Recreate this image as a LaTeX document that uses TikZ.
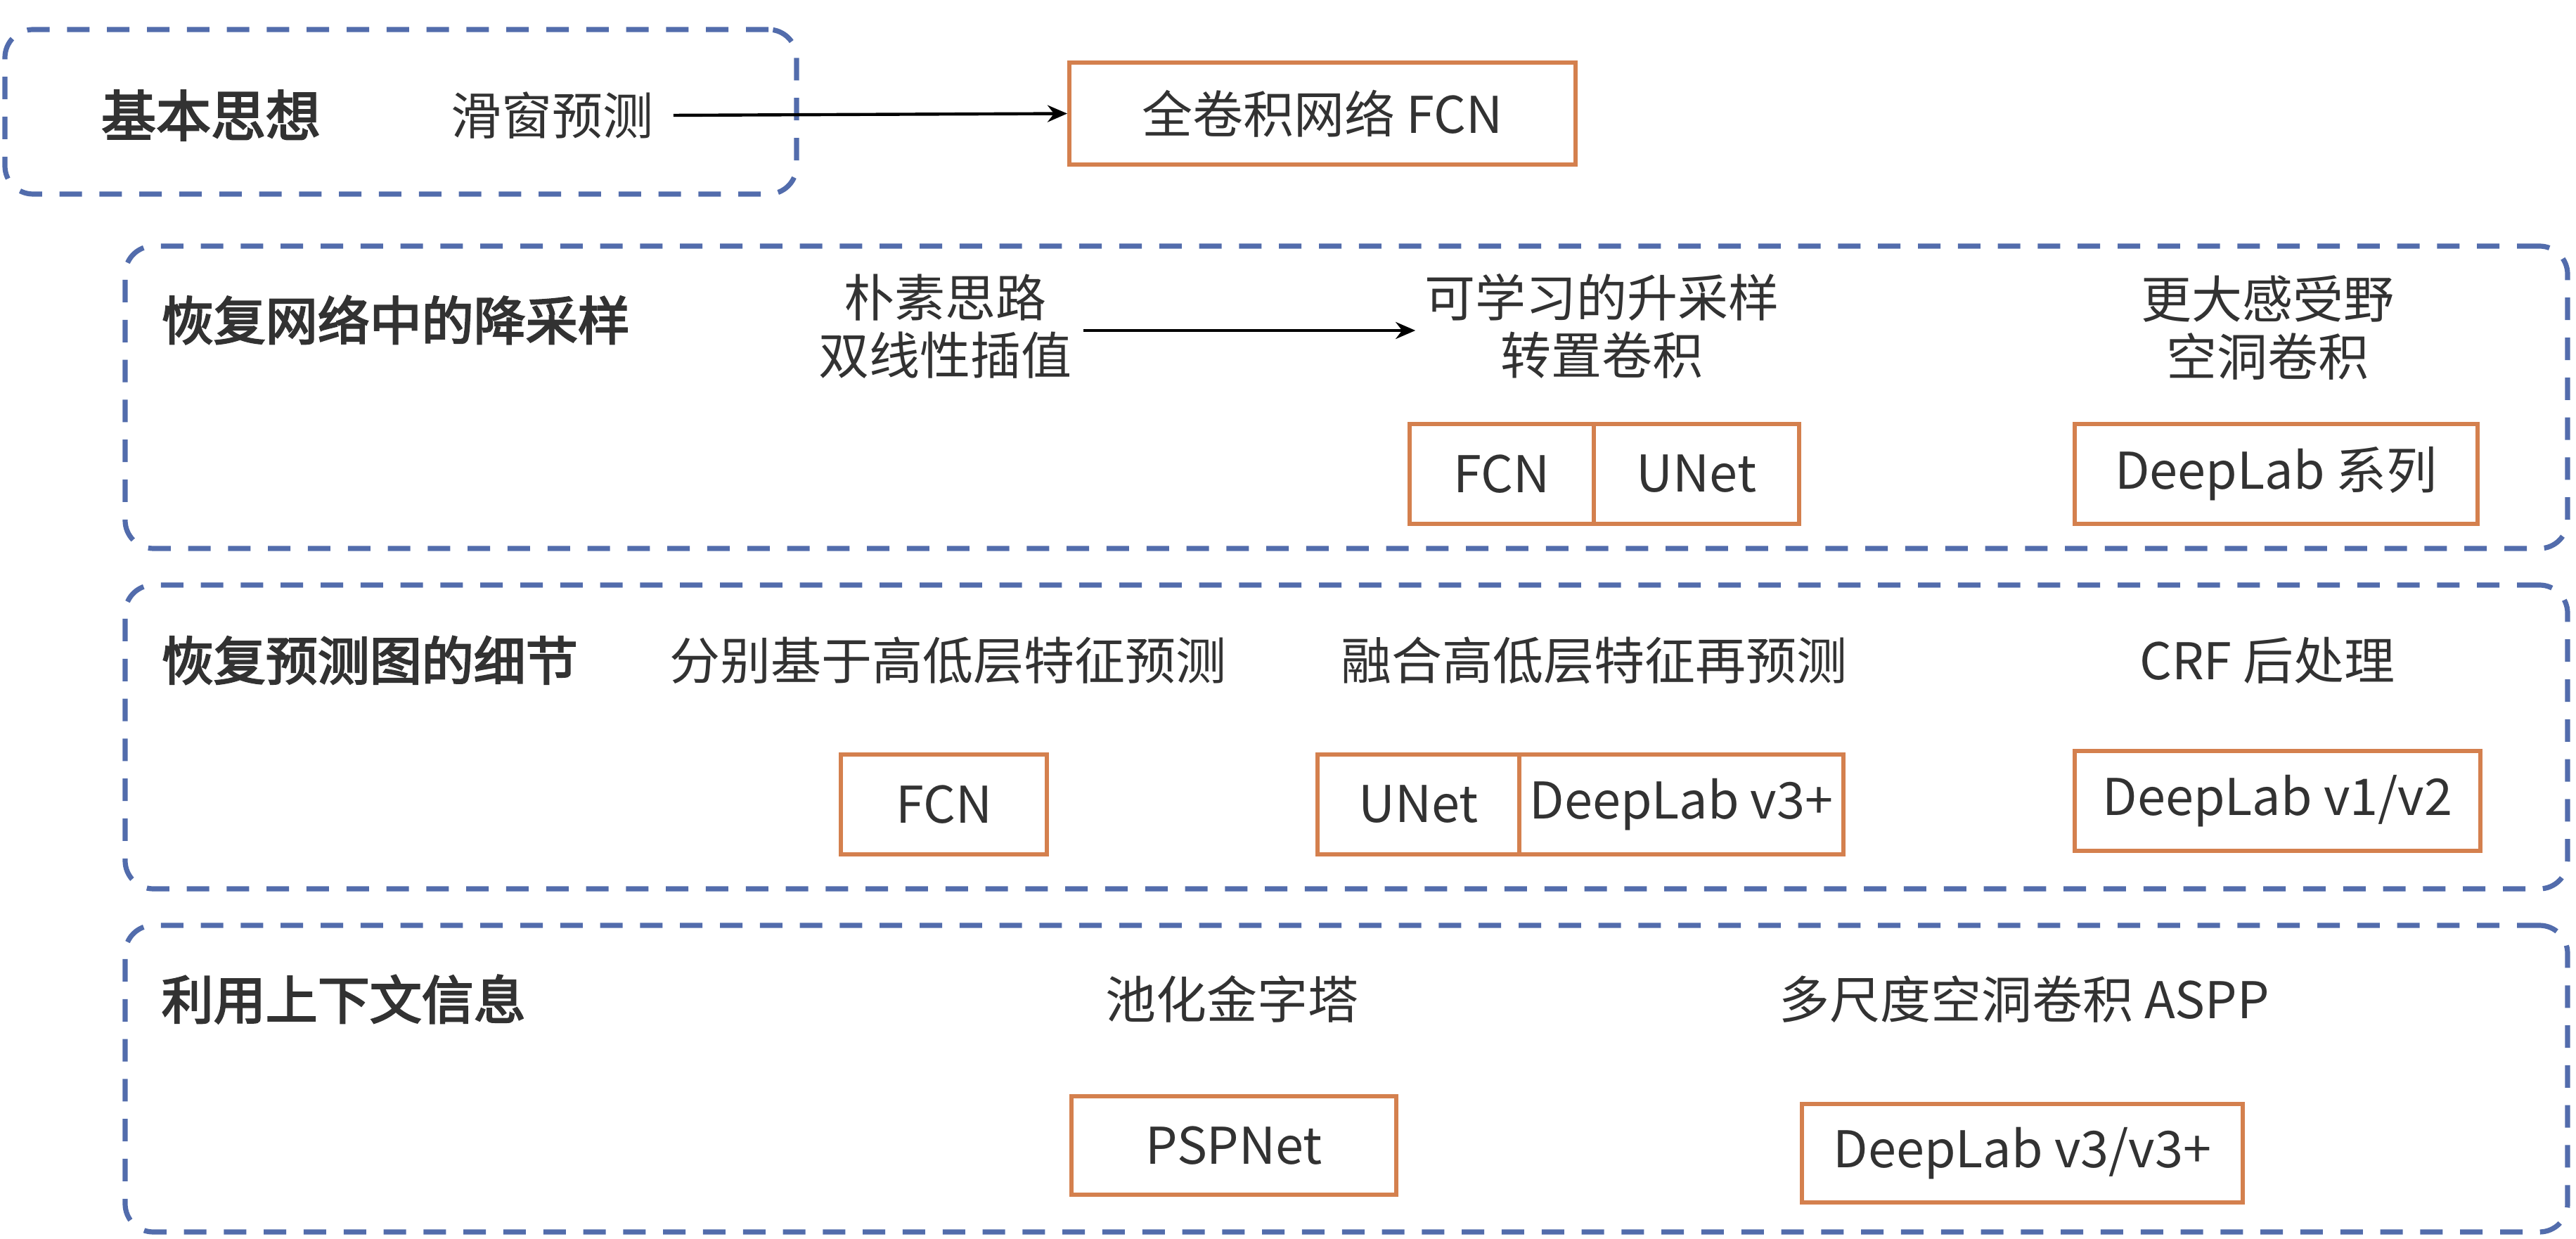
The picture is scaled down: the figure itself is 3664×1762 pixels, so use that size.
\documentclass[tikz,border=0pt]{standalone}
\usepackage{fontspec}
\setmainfont{Noto Sans CJK SC}[AutoFakeBold=3]
\usetikzlibrary{arrows.meta}
\definecolor{grpblue}{RGB}{82,108,172}
\definecolor{boxorange}{RGB}{212,128,78}
\definecolor{txt}{RGB}{50,50,50}
\tikzset{
  group/.style={draw=grpblue, line width=1.8pt, dash pattern=on 8pt off 6.2pt, rounded corners=10pt, rectangle, inner sep=0pt},
  model/.style={draw=boxorange, line width=1.5pt, rectangle, inner sep=0pt, minimum height=35.5pt, text=txt, font=\fontsize{18}{21}\selectfont},
  label/.style={text=txt, font=\fontsize{18}{20.5}\selectfont, align=center, inner sep=0pt},
  title/.style={text=txt, font=\fontsize{18.5}{22}\selectfont\bfseries, inner sep=0pt, anchor=west},
  link/.style={draw=black, line width=1.1pt, -{Stealth[length=7pt,width=6pt]}}
}
\begin{document}
\begin{tikzpicture}[x=0.25pt,y=-0.25pt]
\useasboundingbox[fill=white] (0,0) rectangle (3664,1762);
% groups
\node[group, minimum width=281.5pt, minimum height=58.5pt] (g1) at (570,159) {};
\node[group, minimum width=868.5pt, minimum height=107.5pt] (g2) at (1915,565) {};
\node[group, minimum width=868.5pt, minimum height=108pt] (g3) at (1915,1048) {};
\node[group, minimum width=868.5pt, minimum height=109pt] (g4) at (1915,1534) {};
% row 1
\node[title, anchor=center, font=\fontsize{19.5}{22}\selectfont\bfseries] (t1) at (300,164) {基本思想};
\node[label] (slide) at (785,164) {滑窗预测};
\node[model, minimum width=180pt, minimum height=36.25pt] (fcn0) at (1881,161.5) {全卷积网络 FCN};
\draw[link] ([xshift=7pt]slide.east) -- (fcn0.west);
% row 2
\node[title] (t2) at (229,455) {恢复网络中的降采样};
\node[label] (naive) at (1344,464) {朴素思路\\双线性插值};
\node[label] (learn) at (2278,464) {可学习的升采样\\转置卷积};
\node[label] (dil) at (3225,466) {更大感受野\\空洞卷积};
\draw[link] ([xshift=4pt,yshift=-1.5pt]naive.east) -- ([xshift=-3pt,yshift=-1.5pt]learn.west);
\node[model, minimum width=65.5pt] (fcn2) at (2136,674) {FCN};
\node[model, minimum width=73pt] (unet2) at (2413,674) {UNet};
\node[model, minimum width=143.25pt] (dls) at (3237.5,674) {DeepLab 系列};
% row 3
\node[title] (t3) at (229,939) {恢复预测图的细节};
\node[label] (sep) at (1348,939) {分别基于高低层特征预测};
\node[label] (fuse) at (2267,939) {融合高低层特征再预测};
\node[label] (crf) at (3225,939) {CRF 后处理};
\node[model, minimum width=73.25pt] (fcn3) at (1342.5,1144) {FCN};
\node[model, minimum width=71.75pt] (unet3) at (2017.5,1144) {UNet};
\node[model, minimum width=115.25pt] (dl3p) at (2391.5,1144) {DeepLab v3+};
\node[model, minimum width=144.25pt] (dl12) at (3239.5,1139) {DeepLab v1/v2};
% row 4
\node[title] (t4) at (229,1421) {利用上下文信息};
\node[label] (pyr) at (1752,1421) {池化金字塔};
\node[label] (aspp) at (2879,1421) {多尺度空洞卷积 ASPP};
\node[model, minimum width=115.5pt, minimum height=35pt] (psp) at (1755,1629) {PSPNet};
\node[model, minimum width=156.75pt, minimum height=35pt] (dl3) at (2876.5,1640) {DeepLab v3/v3+};
\end{tikzpicture}
\end{document}
